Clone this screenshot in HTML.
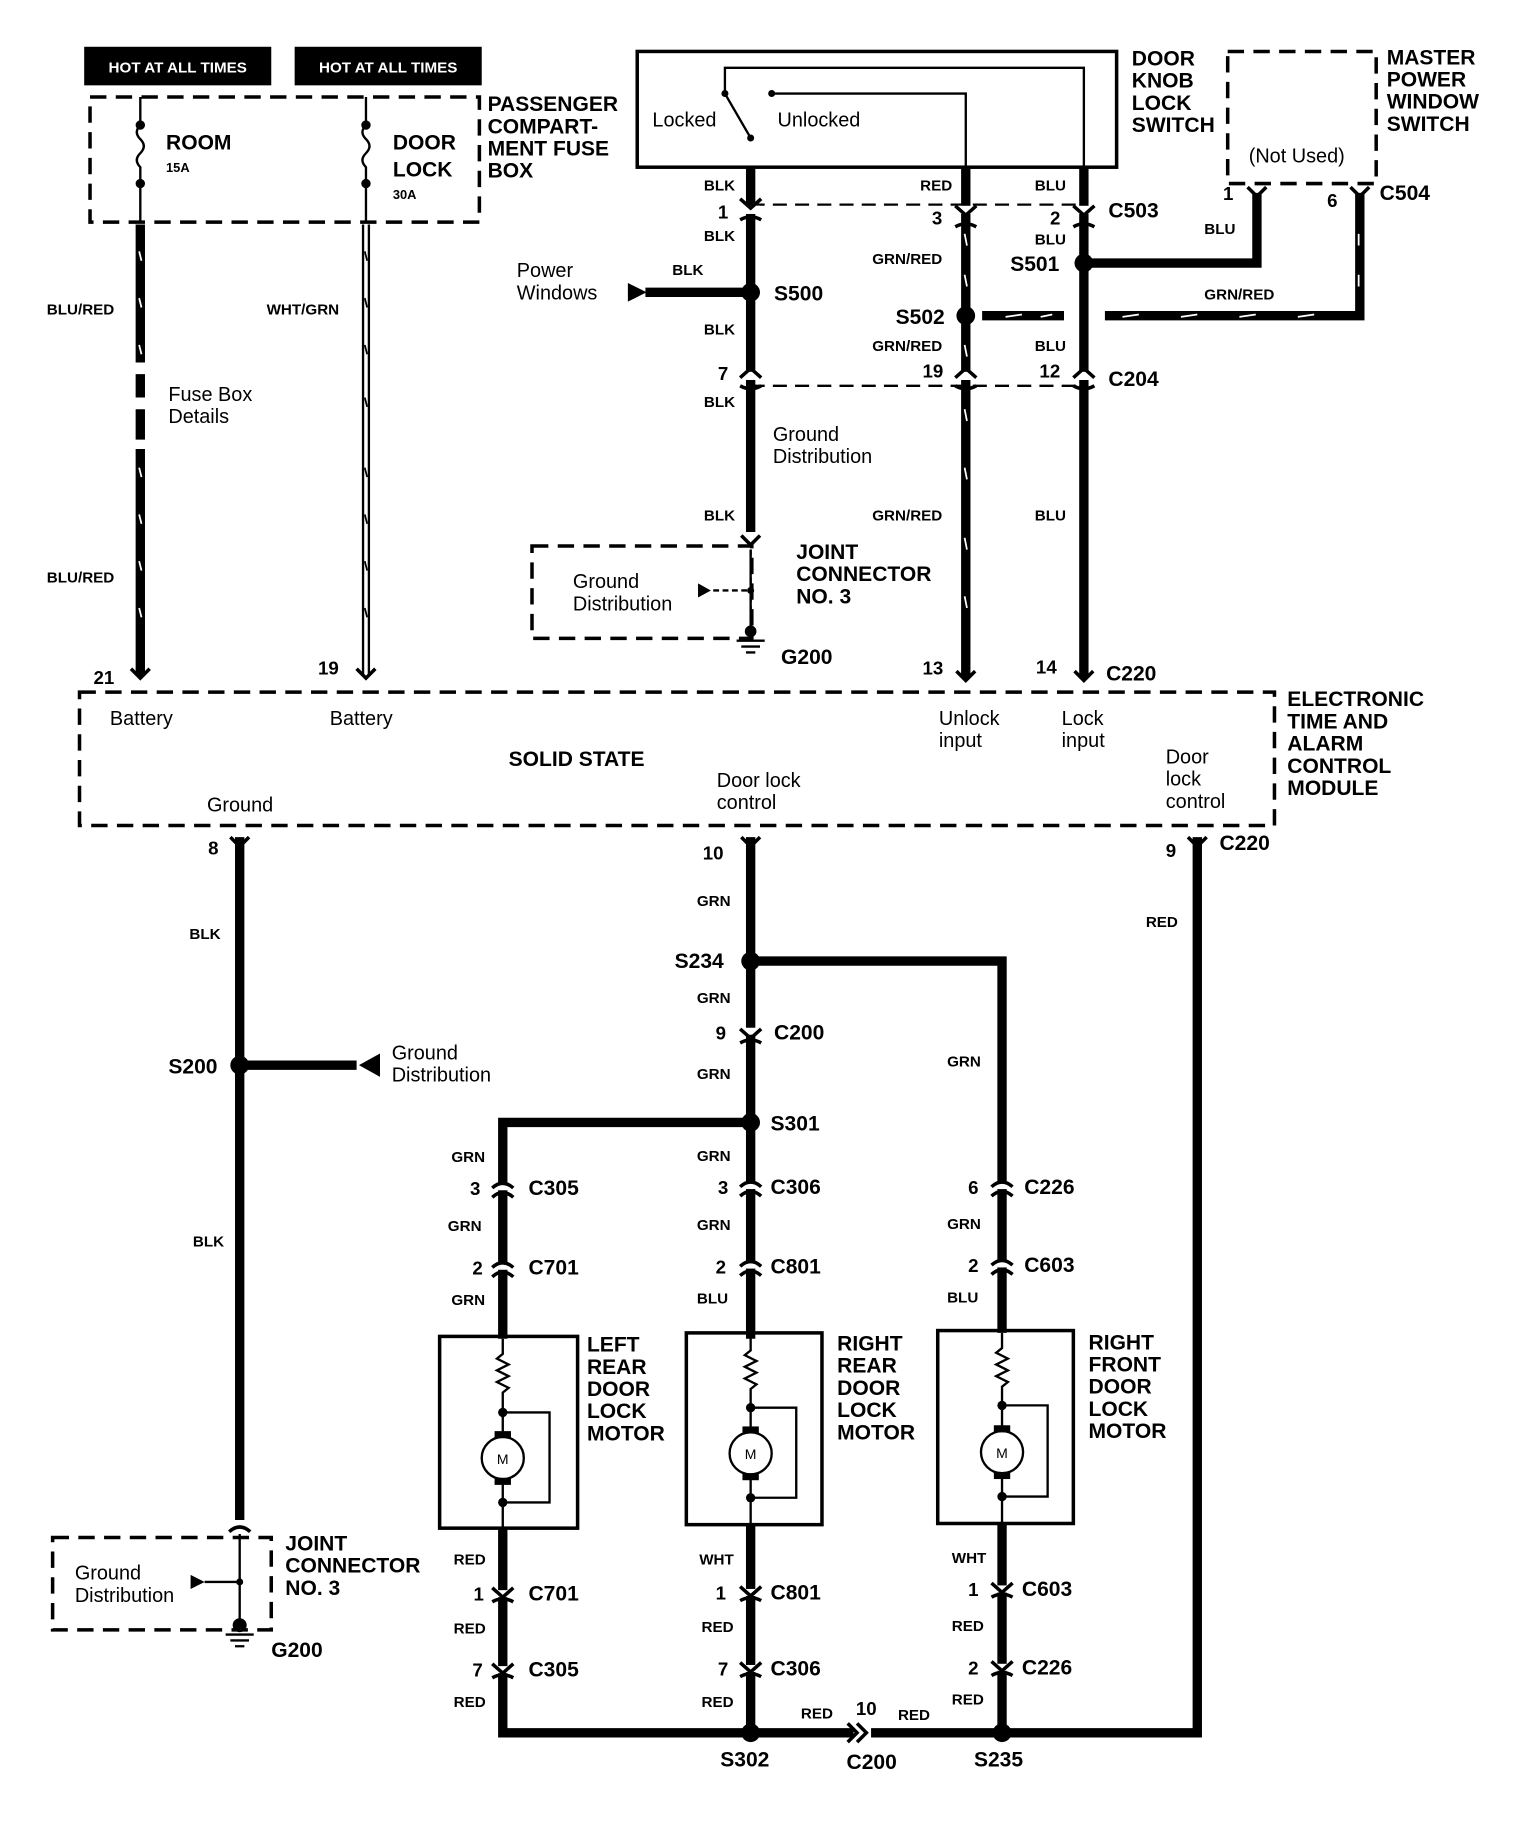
<!DOCTYPE html>
<html><head><meta charset="utf-8"><style>
html,body{margin:0;padding:0;background:#fff}
svg{display:block}
text{font-family:"Liberation Sans",sans-serif;fill:#000}
.b{font-weight:bold;font-size:18px}
.s{font-weight:bold;font-size:13px}
.r{font-size:17px}
.w{stroke:#000;stroke-width:8;fill:none}
.t{stroke:#000;stroke-width:2;fill:none}
.d{stroke:#000;stroke-width:3;fill:none;stroke-dasharray:14 8}
.dt{stroke:#000;stroke-width:2;fill:none;stroke-dasharray:12 7}
.c{stroke:#000;stroke-width:3;fill:none}
</style></head><body>
<svg width="1520" height="1838" viewBox="0 0 1300 1572" preserveAspectRatio="none" xmlns="http://www.w3.org/2000/svg">
<!-- HOT labels -->
<rect x="72" y="40" width="160" height="33" fill="#000"/>
<rect x="252" y="40" width="160" height="33" fill="#000"/>
<text x="152" y="62" class="s" fill="#fff" style="fill:#fff" text-anchor="middle">HOT AT ALL TIMES</text>
<text x="332" y="62" class="s" style="fill:#fff" text-anchor="middle">HOT AT ALL TIMES</text>
<!-- fuse box -->
<rect x="77" y="83" width="333" height="107" class="d"/>
<path class="t" d="M120 83V107 M120 107q-6 6 0 12q6 6 0 12q-6 6 0 12V160V190 M313 83V107 M313 107q-6 6 0 12q6 6 0 12q-6 6 0 12V160V190"/>
<circle cx="120" cy="107" r="4"/><circle cx="120" cy="157" r="4"/>
<circle cx="313" cy="107" r="4"/><circle cx="313" cy="157" r="4"/>
<text x="142" y="128" class="b">ROOM</text><text x="142" y="147" style="font-size:11px;font-weight:bold">15A</text>
<text x="336" y="128" class="b">DOOR</text><text x="336" y="151" class="b">LOCK</text><text x="336" y="170" style="font-size:11px;font-weight:bold">30A</text>
<text x="417" y="95" class="b">PASSENGER</text><text x="417" y="114" class="b">COMPART-</text><text x="417" y="133" class="b">MENT FUSE</text><text x="417" y="152" class="b">BOX</text>
<!-- left wires -->
<path class="w" d="M120 192V310 M120 320V340 M120 350V376 M120 384V578"/>
<path stroke="#fff" stroke-width="1.5" d="M119 215l2 8 M119 255l2 8 M119 295l2 8 M119 400l2 8 M119 440l2 8 M119 480l2 8 M119 520l2 8"/>
<path stroke="#000" stroke-width="7" d="M313 192V578"/>
<path stroke="#fff" stroke-width="3" d="M313 192V578"/>
<path stroke="#000" stroke-width="1.5" d="M312 215l2 8 M312 255l2 8 M312 295l2 8 M312 340l2 8 M312 400l2 8 M312 440l2 8 M312 480l2 8 M312 520l2 8"/>
<path class="c" d="M112 572l8 8 8-8 M305 572l8 8 8-8"/>
<text x="40" y="269" class="s">BLU/RED</text><text x="40" y="498" class="s">BLU/RED</text>
<text x="228" y="269" class="s">WHT/GRN</text>
<text x="144" y="343" class="r">Fuse Box</text><text x="144" y="362" class="r">Details</text>
<text x="80" y="585" class="b" style="font-size:16px">21</text><text x="272" y="577" class="b" style="font-size:16px">19</text>
<!-- module -->
<rect x="68" y="592" width="1022" height="114" class="d"/>
<text x="94" y="620" class="r">Battery</text><text x="282" y="620" class="r">Battery</text>
<text x="435" y="655" class="b">SOLID STATE</text>
<text x="613" y="673" class="r">Door lock</text><text x="613" y="692" class="r">control</text>
<text x="177" y="694" class="r">Ground</text>
<text x="803" y="620" class="r">Unlock</text><text x="803" y="639" class="r">input</text>
<text x="908" y="620" class="r">Lock</text><text x="908" y="639" class="r">input</text>
<text x="997" y="653" class="r">Door</text><text x="997" y="672" class="r">lock</text><text x="997" y="691" class="r">control</text>
<text x="1101" y="604" class="b">ELECTRONIC</text><text x="1101" y="623" class="b">TIME AND</text><text x="1101" y="642" class="b">ALARM</text><text x="1101" y="661" class="b">CONTROL</text><text x="1101" y="680" class="b">MODULE</text>
<!-- door knob switch -->
<rect x="545" y="44" width="410" height="99" fill="none" stroke="#000" stroke-width="3"/>
<path class="t" d="M620 80V58H927V143 M660 80H826V143 M642 118L620 80"/>
<circle cx="620" cy="80" r="3"/><circle cx="660" cy="80" r="3"/><circle cx="642" cy="118" r="3"/>
<text x="558" y="108" class="r">Locked</text><text x="665" y="108" class="r">Unlocked</text>
<text x="968" y="56" class="b">DOOR</text><text x="968" y="75" class="b">KNOB</text><text x="968" y="94" class="b">LOCK</text><text x="968" y="113" class="b">SWITCH</text>
<!-- master -->
<rect x="1050" y="44" width="127" height="113" class="d"/>
<text x="1068" y="139" class="r">(Not Used)</text>
<text x="1186" y="55" class="b">MASTER</text><text x="1186" y="74" class="b">POWER</text><text x="1186" y="93" class="b">WINDOW</text><text x="1186" y="112" class="b">SWITCH</text>
<!-- top wires -->
<path class="w" d="M642 143V455 M826 143V580 M927 143V580"/>
<path stroke="#fff" stroke-width="1.5" d="M825 200l2 10 M825 235l2 10 M825 295l2 10 M825 350l2 10 M825 400l2 10 M825 460l2 10 M825 510l2 10"/>
<path class="dt" d="M642 175H927 M642 330H927"/>
<path class="w" d="M552 250H642 M927 225H1075V165 M840 270H910 M945 270H1163V165"/>
<path stroke="#fff" stroke-width="1.5" d="M860 271l14 -2 M890 271l10 -2 M960 271l14 -2 M1010 271l14 -2 M1060 271l14 -2 M1110 271l14 -2 M1162 200v10 M1162 235v10"/>
<polygon points="537,242 537,258 553,250"/>
<circle cx="642" cy="250" r="8"/><circle cx="927" cy="225" r="8"/><circle cx="826" cy="270" r="8"/>
<!-- connector symbols -->
<g fill="#fff" stroke="none">
<rect x="634" y="176" width="16" height="7"/><rect x="818" y="176" width="16" height="7"/><rect x="919" y="176" width="16" height="7"/>
<rect x="634" y="318" width="16" height="7"/><rect x="818" y="318" width="16" height="7"/><rect x="919" y="318" width="16" height="7"/>
</g>
<path class="c" d="M633 170l9 8 9-8 M633 188q9-5 18 0 M817 176l9 8 9-8 M817 194q9-5 18 0 M918 176l9 8 9-8 M918 194q9-5 18 0
M633 323l9 -8 9 8 M633 330q9 5 18 0 M817 323l9 -8 9 8 M817 330q9 5 18 0 M918 323l9 -8 9 8 M918 330q9 5 18 0
M1067 160l8 8 8-8 M1155 160l8 8 8-8 M818 574l8 8 8-8 M919 574l8 8 8-8 M634 458l8 8 8-8"/>
<text x="602" y="163" class="s">BLK</text><text x="787" y="163" class="s">RED</text><text x="885" y="163" class="s">BLU</text>
<text x="614" y="187" class="b" style="font-size:16px">1</text><text x="797" y="192" class="b" style="font-size:16px">3</text><text x="898" y="192" class="b" style="font-size:16px">2</text>
<text x="948" y="186" class="b">C503</text><text x="885" y="209" class="s">BLU</text><text x="602" y="206" class="s">BLK</text>
<text x="746" y="226" class="s">GRN/RED</text><text x="864" y="232" class="b">S501</text><text x="662" y="257" class="b">S500</text>
<text x="575" y="235" class="s">BLK</text><text x="442" y="237" class="r">Power</text><text x="442" y="256" class="r">Windows</text>
<text x="1030" y="200" class="s">BLU</text><text x="1046" y="171" class="b" style="font-size:16px">1</text><text x="1135" y="177" class="b" style="font-size:16px">6</text><text x="1180" y="171" class="b">C504</text>
<text x="1030" y="256" class="s">GRN/RED</text><text x="766" y="277" class="b">S502</text>
<text x="602" y="286" class="s">BLK</text><text x="746" y="300" class="s">GRN/RED</text><text x="885" y="300" class="s">BLU</text>
<text x="614" y="325" class="b" style="font-size:16px">7</text><text x="789" y="323" class="b" style="font-size:16px">19</text><text x="889" y="323" class="b" style="font-size:16px">12</text><text x="948" y="330" class="b">C204</text>
<text x="602" y="348" class="s">BLK</text><text x="661" y="377" class="r">Ground</text><text x="661" y="396" class="r">Distribution</text>
<text x="602" y="445" class="s">BLK</text><text x="746" y="445" class="s">GRN/RED</text><text x="885" y="445" class="s">BLU</text>
<text x="681" y="478" class="b">JOINT</text><text x="681" y="497" class="b">CONNECTOR</text><text x="681" y="516" class="b">NO. 3</text>
<text x="668" y="568" class="b">G200</text><text x="789" y="577" class="b" style="font-size:16px">13</text><text x="886" y="576" class="b" style="font-size:16px">14</text><text x="946" y="582" class="b">C220</text>
<!-- joint connector top -->
<rect x="455" y="467" width="188" height="79" class="d"/>
<path class="t" d="M642 470V540 M610 505H642" stroke-dasharray="5 3"/>
<path class="t" d="M642 470V540"/>
<polygon points="597,499 597,511 608,505"/><circle cx="642" cy="505" r="3"/><circle cx="642" cy="540" r="5"/>
<path class="t" d="M630 548H654 M634 553H650 M638 558H646"/>
<text x="490" y="503" class="r">Ground</text><text x="490" y="522" class="r">Distribution</text>
<!-- lower wires -->
<path class="w" d="M205 716V1300 M642 716V1145 M642 822H857V1140 M642 960H430V1145 M1024 716V1482H857 M430 1307V1482H642 M642 1304V1482 M857 1303V1482 M642 1482H730 M745 1482H857 M205 911H305"/>
<polygon points="325,901 325,921 307,911"/>
<path class="c" d="M197 716l8 8 8-8 M634 716l8 8 8-8 M1016 716l8 8 8-8"/>
<circle cx="205" cy="911" r="8"/><circle cx="642" cy="822" r="8"/><circle cx="642" cy="960" r="8"/><circle cx="642" cy="1482" r="8"/><circle cx="857" cy="1482" r="8"/>
<path class="c" stroke-width="3" d="M725 1474l8 8-8 8 M733 1474l8 8-8 8"/>
<!-- connector marks lower -->
<g fill="#fff"><rect x="422" y="1012" width="16" height="6"/><rect x="422" y="1080" width="16" height="6"/><rect x="634" y="1011" width="16" height="6"/><rect x="634" y="1079" width="16" height="6"/><rect x="849" y="1011" width="16" height="6"/><rect x="849" y="1078" width="16" height="6"/><rect x="634" y="879" width="16" height="6"/>
<rect x="422" y="1360" width="16" height="6"/><rect x="422" y="1425" width="16" height="6"/><rect x="634" y="1359" width="16" height="6"/><rect x="634" y="1424" width="16" height="6"/><rect x="849" y="1356" width="16" height="6"/><rect x="849" y="1423" width="16" height="6"/></g>
<path class="c" d="M421 1016q9-8 18 0 M421 1024q9-8 18 0 M421 1084q9-8 18 0 M421 1092q9-8 18 0
M633 1015q9-8 18 0 M633 1023q9-8 18 0 M633 1083q9-8 18 0 M633 1091q9-8 18 0
M848 1015q9-8 18 0 M848 1023q9-8 18 0 M848 1082q9-8 18 0 M848 1090q9-8 18 0
M633 880l9 8 9-8 M633 892q9-5 18 0
M421 1358l9 8 9-8 M421 1370q9-5 18 0 M421 1423l9 8 9-8 M421 1435q9-5 18 0
M633 1357l9 8 9-8 M633 1369q9-5 18 0 M633 1422l9 8 9-8 M633 1434q9-5 18 0
M848 1354l9 8 9-8 M848 1366q9-5 18 0 M848 1421l9 8 9-8 M848 1433q9-5 18 0
M196 1310q9-8 18 0"/>
<text x="178" y="731" class="b" style="font-size:16px">8</text><text x="162" y="803" class="s">BLK</text><text x="144" y="918" class="b">S200</text>
<text x="335" y="906" class="r">Ground</text><text x="335" y="925" class="r">Distribution</text><text x="165" y="1066" class="s">BLK</text>
<rect x="45" y="1315" width="187" height="79" class="d"/>
<path class="t" d="M205 1312V1388 M175 1353H205"/>
<polygon points="163,1347 163,1359 175,1353"/><circle cx="205" cy="1353" r="3"/><circle cx="205" cy="1390" r="6"/>
<path class="t" d="M193 1398H217 M197 1403H213 M201 1408H209"/>
<text x="64" y="1351" class="r">Ground</text><text x="64" y="1370" class="r">Distribution</text>
<text x="244" y="1326" class="b">JOINT</text><text x="244" y="1345" class="b">CONNECTOR</text><text x="244" y="1364" class="b">NO. 3</text><text x="232" y="1417" class="b">G200</text>
<text x="601" y="735" class="b" style="font-size:16px">10</text><text x="596" y="775" class="s">GRN</text><text x="577" y="828" class="b">S234</text>
<text x="596" y="858" class="s">GRN</text><text x="612" y="889" class="b" style="font-size:16px">9</text><text x="662" y="889" class="b">C200</text>
<text x="596" y="923" class="s">GRN</text><text x="659" y="967" class="b">S301</text>
<text x="997" y="733" class="b" style="font-size:16px">9</text><text x="1043" y="727" class="b">C220</text><text x="980" y="793" class="s">RED</text>
<text x="810" y="912" class="s">GRN</text>
<!-- columns labels -->
<text x="386" y="994" class="s">GRN</text><text x="402" y="1022" class="b" style="font-size:16px">3</text><text x="452" y="1022" class="b">C305</text>
<text x="383" y="1053" class="s">GRN</text><text x="404" y="1090" class="b" style="font-size:16px">2</text><text x="452" y="1090" class="b">C701</text><text x="386" y="1116" class="s">GRN</text>
<text x="596" y="993" class="s">GRN</text><text x="614" y="1021" class="b" style="font-size:16px">3</text><text x="659" y="1021" class="b">C306</text>
<text x="596" y="1052" class="s">GRN</text><text x="612" y="1089" class="b" style="font-size:16px">2</text><text x="659" y="1089" class="b">C801</text><text x="596" y="1115" class="s">BLU</text>
<text x="828" y="1021" class="b" style="font-size:16px">6</text><text x="876" y="1021" class="b">C226</text>
<text x="810" y="1051" class="s">GRN</text><text x="828" y="1088" class="b" style="font-size:16px">2</text><text x="876" y="1088" class="b">C603</text><text x="810" y="1114" class="s">BLU</text>
<!-- motors -->
<g>
<rect x="376" y="1143" width="118" height="164" fill="none" stroke="#000" stroke-width="3"/>
<rect x="587" y="1140" width="116" height="164" fill="none" stroke="#000" stroke-width="3"/>
<rect x="802" y="1138" width="116" height="165" fill="none" stroke="#000" stroke-width="3"/>
</g>
<path class="t" d="M430 1145V1158l-5 4 10 5-10 5 10 5-10 5 10 5-5 4V1228 M430 1208H470V1285H430 M430 1265V1307"/>
<path class="t" d="M642 1142V1155l-5 4 10 5-10 5 10 5-10 5 10 5-5 4V1224 M642 1204H681V1281H642 M642 1262V1304"/>
<path class="t" d="M857 1140V1153l-5 4 10 5-10 5 10 5-10 5 10 5-5 4V1222 M857 1202H896V1280H857 M857 1260V1303"/>
<g fill="#fff" stroke="#000" stroke-width="2"><circle cx="430" cy="1247" r="18"/><circle cx="642" cy="1243" r="18"/><circle cx="857" cy="1242" r="18"/></g>
<g><rect x="423" y="1224" width="14" height="6"/><rect x="423" y="1264" width="14" height="6"/><rect x="635" y="1220" width="14" height="6"/><rect x="635" y="1260" width="14" height="6"/><rect x="850" y="1219" width="14" height="6"/><rect x="850" y="1259" width="14" height="6"/>
<circle cx="430" cy="1208" r="4"/><circle cx="430" cy="1285" r="4"/><circle cx="642" cy="1204" r="4"/><circle cx="642" cy="1281" r="4"/><circle cx="857" cy="1202" r="4"/><circle cx="857" cy="1280" r="4"/></g>
<text x="430" y="1252" text-anchor="middle" style="font-size:12px">M</text><text x="642" y="1248" text-anchor="middle" style="font-size:12px">M</text><text x="857" y="1247" text-anchor="middle" style="font-size:12px">M</text>
<text x="502" y="1156" class="b">LEFT</text><text x="502" y="1175" class="b">REAR</text><text x="502" y="1194" class="b">DOOR</text><text x="502" y="1213" class="b">LOCK</text><text x="502" y="1232" class="b">MOTOR</text>
<text x="716" y="1155" class="b">RIGHT</text><text x="716" y="1174" class="b">REAR</text><text x="716" y="1193" class="b">DOOR</text><text x="716" y="1212" class="b">LOCK</text><text x="716" y="1231" class="b">MOTOR</text>
<text x="931" y="1154" class="b">RIGHT</text><text x="931" y="1173" class="b">FRONT</text><text x="931" y="1192" class="b">DOOR</text><text x="931" y="1211" class="b">LOCK</text><text x="931" y="1230" class="b">MOTOR</text>
<!-- bottom labels -->
<text x="388" y="1338" class="s">RED</text><text x="405" y="1369" class="b" style="font-size:16px">1</text><text x="452" y="1369" class="b">C701</text>
<text x="388" y="1397" class="s">RED</text><text x="404" y="1434" class="b" style="font-size:16px">7</text><text x="452" y="1434" class="b">C305</text><text x="388" y="1460" class="s">RED</text>
<text x="598" y="1338" class="s">WHT</text><text x="612" y="1368" class="b" style="font-size:16px">1</text><text x="659" y="1368" class="b">C801</text>
<text x="600" y="1396" class="s">RED</text><text x="614" y="1433" class="b" style="font-size:16px">7</text><text x="659" y="1433" class="b">C306</text><text x="600" y="1460" class="s">RED</text>
<text x="814" y="1337" class="s">WHT</text><text x="828" y="1365" class="b" style="font-size:16px">1</text><text x="874" y="1365" class="b">C603</text>
<text x="814" y="1395" class="s">RED</text><text x="828" y="1432" class="b" style="font-size:16px">2</text><text x="874" y="1432" class="b">C226</text><text x="814" y="1458" class="s">RED</text>
<text x="685" y="1470" class="s">RED</text><text x="732" y="1467" class="b" style="font-size:16px">10</text><text x="768" y="1471" class="s">RED</text>
<text x="616" y="1511" class="b">S302</text><text x="724" y="1513" class="b">C200</text><text x="833" y="1511" class="b">S235</text>
</svg>
</body></html>
